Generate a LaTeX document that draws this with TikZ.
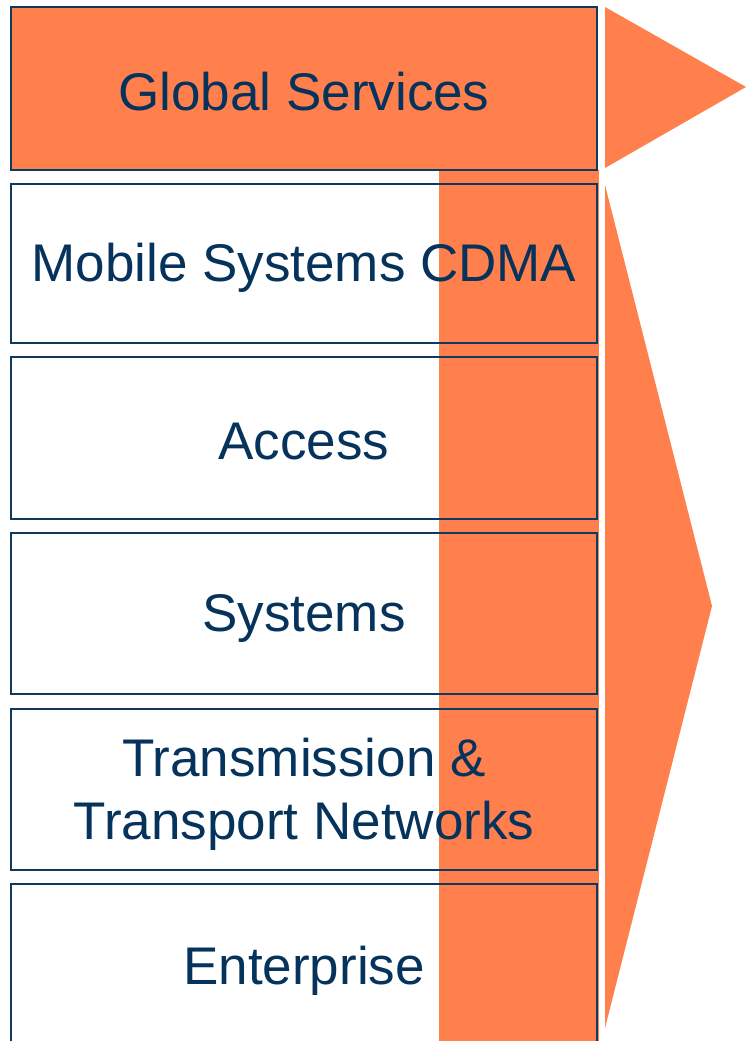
\documentclass[tikz,border=0pt]{standalone}
\usepackage{fontspec}
\setmainfont{Liberation Sans}
\definecolor{org}{HTML}{FF7F4D}
\definecolor{navy}{HTML}{0F3A5E}
\definecolor{txt}{HTML}{06335C}
\begin{document}
\begin{tikzpicture}[x=1pt,y=-1pt,
  layer/.style={draw=navy, line width=1.4pt, minimum width=586pt, inner sep=0pt},
  ltext/.style={text=txt, align=center, inner sep=0pt, font=\fontsize{53}{63}\selectfont},
  wedge/.style={fill=org, draw=none}]
\useasboundingbox (0,0) rectangle (746,1041);
\fill[white] (0,0) rectangle (746,1041);
% orange strip behind the layers
\fill[org] (439,170) rectangle (599,1041);
% arrows
\fill[wedge] (605,7) -- (746,87) -- (605,168) -- cycle;
\fill[wedge] (605,185) -- (712,606) -- (605,1028) -- cycle;
% layers
\node[layer, fill=org, minimum height=163pt] (gs) at (304,88.5) {};
\node[layer, minimum height=159pt] (mob) at (304,263.5) {};
\node[layer, minimum height=162pt] (acc) at (304,438) {};
\node[layer, minimum height=161pt] (sys) at (304,613.5) {};
\node[layer, minimum height=161pt] (tra) at (304,789.5) {};
\node[layer, minimum height=161pt] (ent) at (304,964.5) {};
% texts
\node[ltext, yshift=-3pt] (gst) at (gs.center) {Global Services};
\node[ltext, yshift=-4pt] (mobt) at (mob.center) {Mobile Systems CDMA};
\node[ltext, yshift=-4pt] (acct) at (acc.center) {Access};
\node[ltext, yshift=-5pt] (syst) at (sys.center) {Systems};
\node[ltext, yshift=-5pt] (trat) at (tra.center) {Transmission \&\\Transport Networks};
\node[ltext, yshift=-6pt] (entt) at (ent.center) {Enterprise};
\end{tikzpicture}
\end{document}
